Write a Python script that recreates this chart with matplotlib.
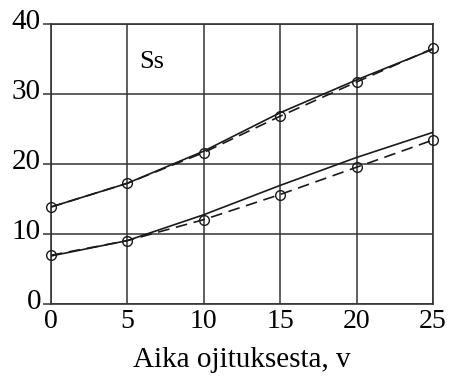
import matplotlib
matplotlib.use("Agg")
import matplotlib.pyplot as plt
import matplotlib.transforms as mtransforms

plt.rcParams['font.family'] = ['Liberation Serif', 'DejaVu Serif']

years = [0, 5, 10, 15, 20, 25]

# measured values (circles, dashed)
upper_obs = [13.8, 17.2, 21.6, 26.8, 31.7, 36.5]
lower_obs = [6.9, 9.0, 12.0, 15.6, 19.5, 23.4]

# fitted curves (solid)
upper_fit = [13.8, 17.2, 21.8, 27.3, 32.0, 36.4]
lower_fit = [6.8, 9.0, 12.7, 16.9, 20.9, 24.5]

xticks = [0, 5, 10, 15, 20, 25]
yticks = [0, 10, 20, 30, 40]

fig = plt.figure(figsize=(4.55, 3.78), dpi=100)
ax = fig.add_axes([0.1114, 0.197, 0.8402, 0.7395])

ink = '#1a1a1a'
for fit, obs in [(upper_fit, upper_obs), (lower_fit, lower_obs)]:
    ax.plot(years, fit, '-', color=ink, lw=1.2, zorder=3)
    ax.plot(years, obs, '--', color=ink, lw=1.2, dashes=(7, 4), zorder=3)
    ax.plot(years, obs, 'o', ms=7, mfc='none', mec=ink, mew=1.0, zorder=4, clip_on=False)

ax.set_xlim(0, 25)
ax.set_ylim(0, 40)
ax.set_xticks(xticks)
ax.set_yticks(yticks)
ax.grid(True, color='#333333', lw=1.1)
for s in ax.spines.values():
    s.set_color('#333333')
    s.set_linewidth(1.2)
ax.tick_params(axis='y', direction='out', length=6, width=1.1, color='#333333',
               labelsize=21, pad=1)
ax.tick_params(axis='x', direction='out', length=0, labelsize=20, pad=4)
ax.set_xlabel('Aika ojituksesta, v', fontsize=21, labelpad=9)

# y tick labels sit slightly above their grid lines
lift = mtransforms.ScaledTranslation(0, 5 / 100, fig.dpi_scale_trans)
for lbl in ax.get_yticklabels():
    lbl.set_transform(lbl.get_transform() + lift)

ax.text(6.6, 34.6, 'Ss', fontsize=19, ha='center', va='center')

fig.savefig('out.png', dpi=100)
